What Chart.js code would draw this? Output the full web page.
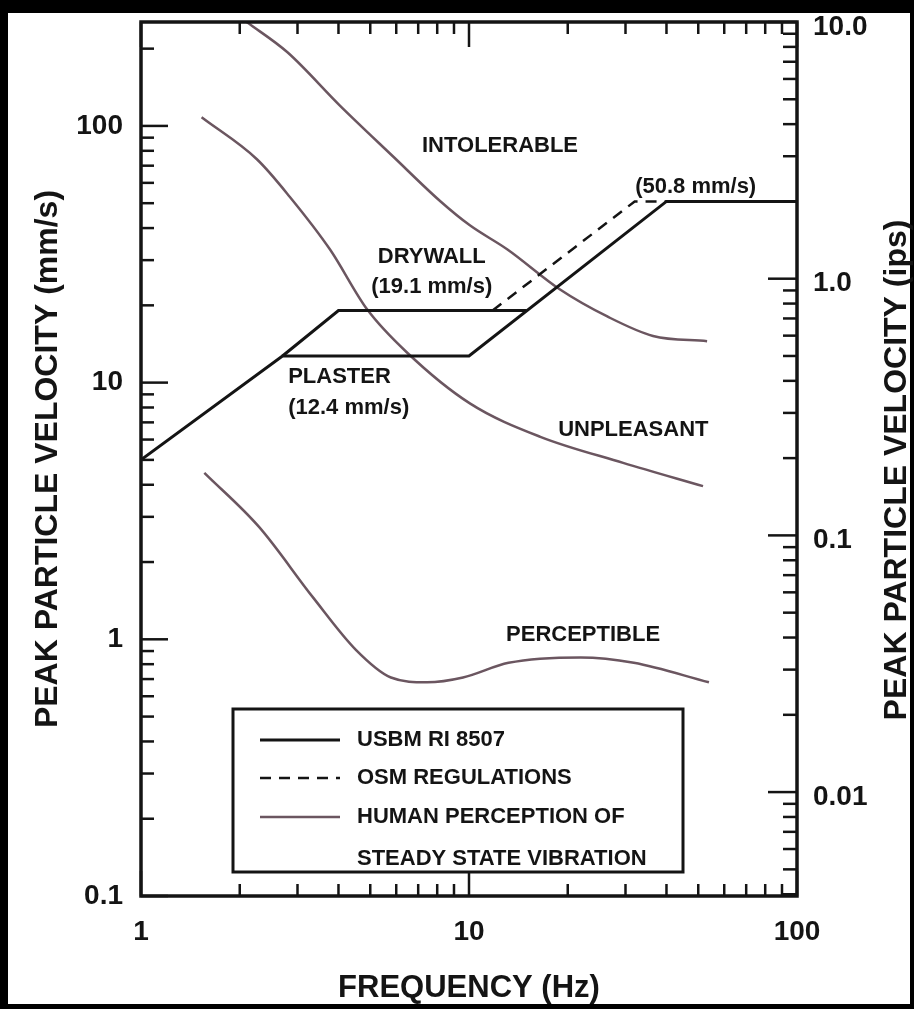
<!DOCTYPE html>
<html>
<head>
<meta charset="utf-8">
<title>Blast vibration criteria</title>
<script src="https://cdn.jsdelivr.net/npm/chart.js@4.4.1/dist/chart.umd.min.js"></script>
<style>
  html, body { margin: 0; padding: 0; background: #fff; }
  #wrap { width: 914px; height: 1009px; }
</style>
</head>
<body>
<div id="wrap"><canvas id="vibChart" width="914" height="1009"></canvas></div>
<script>
// [frequency Hz, peak particle velocity mm/s]
const usbmMain = [[1, 5.0], [2.7, 12.7], [10, 12.7], [40, 50.8], [100, 50.8]];
const usbmDrywall = [[2.7, 12.7], [4, 19.1], [15, 19.1]];
const osmLine = [[11.8, 19.1], [32, 50.8], [40, 50.8]];

const intolerable = [[2.1, 254], [2.79, 194], [4.04, 120], [5.87, 76], [8.16, 51], [10.06, 41],
  [13.1, 33], [18.9, 23.1], [26.4, 18.1], [36.4, 15.2], [53.2, 14.5]];
const unpleasant = [[1.53, 108], [2.26, 74], [2.84, 53], [3.77, 33], [4.89, 19.3], [6.47, 13.1],
  [10.06, 8.3], [16.5, 6.15], [29.5, 4.87], [51.7, 3.95]];
const perceptible = [[1.56, 4.45], [2.29, 2.74], [3.34, 1.46], [4.52, 0.91], [5.78, 0.71], [7.45, 0.68],
  [9.59, 0.71], [13.2, 0.81], [21.9, 0.85], [31.8, 0.81], [53.9, 0.68]];

const xTickLabels = [1, 10, 100];
const yTickLabels = [0.1, 1, 10, 100];
const ipsTickLabels = [0.01, 0.1, 1, 10];
const MM_PER_IN = 25.4;
const Y_MIN = 0.1, Y_MAX = 254;

// text labels placed in data units (Hz, mm/s)
const notes = [
  { text: 'INTOLERABLE', f: 7.19, v: 83.5, align: 'left' },
  { text: 'DRYWALL', f: 7.7, v: 31.0, align: 'center' },
  { text: '(19.1 mm/s)', f: 7.7, v: 23.5, align: 'center' },
  { text: 'PLASTER', f: 2.81, v: 10.5, align: 'left' },
  { text: '(12.4 mm/s)', f: 2.81, v: 8.0, align: 'left' },
  { text: '(50.8 mm/s)', f: 32.1, v: 57.7, align: 'left' },
  { text: 'UNPLEASANT', f: 18.7, v: 6.55, align: 'left' },
  { text: 'PERCEPTIBLE', f: 12.97, v: 1.04, align: 'left' }
];

const FONT = '"Liberation Sans", Arial, Helvetica, sans-serif';
const INK = '#141414';
const HUMAN = '#6b5660';

const toXY = pts => pts.map(p => ({ x: p[0], y: p[1] }));

function logTicks(min, max) {
    const out = [];
    for (let e = Math.floor(Math.log10(min)); e <= Math.ceil(Math.log10(max)); e++) {
        for (let k = 1; k <= 9; k++) {
            const v = k * Math.pow(10, e);
            if (v >= min * 0.999 && v <= max * 1.001) out.push({ v: v, major: k === 1 });
        }
    }
    return out;
}

function line(ctx, x1, y1, x2, y2) {
    ctx.beginPath();
    ctx.moveTo(x1, y1);
    ctx.lineTo(x2, y2);
    ctx.stroke();
}

// keep tick labels from pushing the plot area around
function noEdgePadding(s) {
    s.paddingTop = 0;
    s.paddingBottom = 0;
    s.paddingLeft = 0;
    s.paddingRight = 0;
}

const decorations = {
    id: 'decorations',
    beforeDraw(chart) {
        const ctx = chart.ctx;
        ctx.save();
        ctx.fillStyle = '#fff';
        ctx.fillRect(0, 0, chart.width, chart.height);
        // black scan border
        ctx.fillStyle = '#000';
        ctx.fillRect(0, 0, chart.width, 13);
        ctx.fillRect(0, 0, 8, chart.height);
        ctx.fillRect(0, chart.height - 5, chart.width, 5);
        ctx.fillRect(chart.width - 4, 0, 4, chart.height);
        ctx.restore();
    },
    afterDraw(chart) {
        const ctx = chart.ctx;
        const a = chart.chartArea;
        const xs = chart.scales.x, ys = chart.scales.y, ys2 = chart.scales.y2;
        ctx.save();
        ctx.strokeStyle = INK;
        ctx.lineWidth = 2.5;

        // inward ticks
        logTicks(xs.min, xs.max).forEach(t => {
            const px = xs.getPixelForValue(t.v);
            const len = t.major ? 25 : 12;
            line(ctx, px, a.bottom, px, a.bottom - len);
            line(ctx, px, a.top, px, a.top + len);
        });
        logTicks(ys.min, ys.max).forEach(t => {
            const py = ys.getPixelForValue(t.v);
            line(ctx, a.left, py, a.left + (t.major ? 27 : 13), py);
        });
        logTicks(ys2.min, ys2.max).forEach(t => {
            const py = ys2.getPixelForValue(t.v);
            line(ctx, a.right, py, a.right - (t.major ? 29 : 14), py);
        });

        // plot frame
        ctx.lineWidth = 3.5;
        ctx.strokeRect(a.left, a.top, a.right - a.left, a.bottom - a.top);

        // right axis title, reading bottom to top
        ctx.fillStyle = INK;
        ctx.font = 'bold 32px ' + FONT;
        ctx.textAlign = 'center';
        ctx.textBaseline = 'middle';
        ctx.save();
        ctx.translate(897, 470);
        ctx.rotate(-Math.PI / 2);
        ctx.fillText('PEAK PARTICLE VELOCITY (ips)', 0, 0);
        ctx.restore();

        // curve labels
        ctx.font = 'bold 22px ' + FONT;
        notes.forEach(n => {
            ctx.textAlign = n.align;
            ctx.fillText(n.text, xs.getPixelForValue(n.f), ys.getPixelForValue(n.v));
        });

        // legend box
        const bx = a.left + 92, by = a.top + 687, bw = 450, bh = 163;
        ctx.fillStyle = '#fff';
        ctx.fillRect(bx, by, bw, bh);
        ctx.lineWidth = 3;
        ctx.strokeRect(bx, by, bw, bh);

        const items = [
            { ds: chart.data.datasets[0], y: 31, lines: ['USBM RI 8507'] },
            { ds: chart.data.datasets[2], y: 69, lines: ['OSM REGULATIONS'] },
            { ds: chart.data.datasets[3], y: 108, lines: ['HUMAN PERCEPTION OF', 'STEADY STATE VIBRATION'] }
        ];
        ctx.font = 'bold 22px ' + FONT;
        ctx.textAlign = 'left';
        items.forEach(it => {
            ctx.strokeStyle = it.ds.borderColor;
            ctx.lineWidth = it.ds.borderWidth;
            ctx.setLineDash(it.ds.borderDash || []);
            line(ctx, bx + 27, by + it.y, bx + 107, by + it.y);
            ctx.setLineDash([]);
            ctx.fillStyle = INK;
            it.lines.forEach((txt, i) => ctx.fillText(txt, bx + 124, by + it.y + i * 42));
        });
        ctx.restore();
    }
};

const solid = { borderColor: INK, borderWidth: 3, pointRadius: 0, tension: 0, fill: false };
const human = { borderColor: HUMAN, borderWidth: 2.5, pointRadius: 0, cubicInterpolationMode: 'monotone', fill: false };

new Chart(document.getElementById('vibChart'), {
    type: 'line',
    data: {
        datasets: [
            Object.assign({ label: 'USBM RI 8507', data: toXY(usbmMain) }, solid),
            Object.assign({ label: 'USBM RI 8507 drywall', data: toXY(usbmDrywall) }, solid),
            { label: 'OSM REGULATIONS', data: toXY(osmLine), borderColor: INK, borderWidth: 2.5,
              borderDash: [11, 8], pointRadius: 0, tension: 0, fill: false },
            Object.assign({ label: 'Intolerable', data: toXY(intolerable) }, human),
            Object.assign({ label: 'Unpleasant', data: toXY(unpleasant) }, human),
            Object.assign({ label: 'Perceptible', data: toXY(perceptible) }, human)
        ]
    },
    options: {
        responsive: false,
        animation: false,
        layout: { padding: { top: 22, left: 0, right: 0, bottom: 0 } },
        plugins: { legend: { display: false }, tooltip: { enabled: false } },
        scales: {
            x: {
                type: 'logarithmic', position: 'bottom', min: 1, max: 100,
                afterFit: s => { s.height = 113; noEdgePadding(s); },
                afterBuildTicks: s => { s.ticks = xTickLabels.map(v => ({ value: v })); },
                ticks: { callback: v => String(v), autoSkip: false, maxRotation: 0, padding: 19,
                         color: INK, font: { family: FONT, size: 28, weight: 'bold' } },
                grid: { display: false, drawTicks: false },
                border: { display: false },
                title: { display: true, text: 'FREQUENCY (Hz)', color: INK, padding: { top: 0, bottom: 2 },
                         font: { family: FONT, size: 31, weight: 'bold' } }
            },
            y: {
                type: 'logarithmic', position: 'left', min: Y_MIN, max: Y_MAX,
                afterFit: s => { s.width = 141; noEdgePadding(s); },
                afterBuildTicks: s => { s.ticks = yTickLabels.map(v => ({ value: v })); },
                ticks: { callback: v => String(v), autoSkip: false, padding: 18,
                         color: INK, font: { family: FONT, size: 28, weight: 'bold' } },
                grid: { display: false, drawTicks: false },
                border: { display: false },
                title: { display: true, text: 'PEAK PARTICLE VELOCITY (mm/s)', color: INK, padding: { top: 29, bottom: 0 },
                         font: { family: FONT, size: 32, weight: 'bold' } }
            },
            y2: {
                type: 'logarithmic', position: 'right', min: Y_MIN / MM_PER_IN, max: Y_MAX / MM_PER_IN,
                afterFit: s => { s.width = 117; noEdgePadding(s); },
                afterBuildTicks: s => { s.ticks = ipsTickLabels.map(v => ({ value: v })); },
                ticks: { callback: v => (v >= 1 ? v.toFixed(1) : String(v)), autoSkip: false, padding: 16,
                         labelOffset: 5, color: INK, font: { family: FONT, size: 28, weight: 'bold' } },
                grid: { display: false, drawTicks: false },
                border: { display: false }
            }
        }
    },
    plugins: [decorations]
});
</script>
</body>
</html>
